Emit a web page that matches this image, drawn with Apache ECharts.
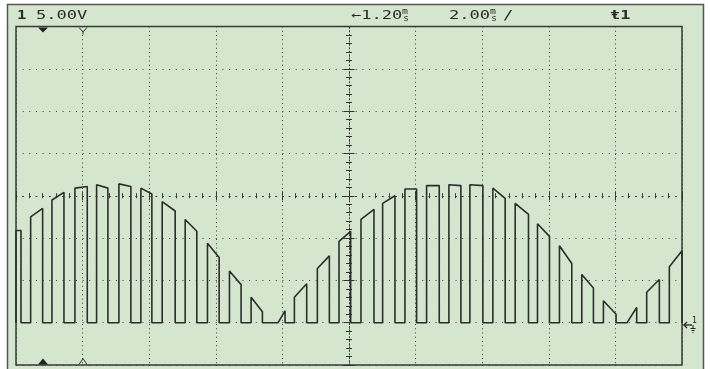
<!DOCTYPE html>
<html><head><meta charset="utf-8">
<script src="https://cdn.jsdelivr.net/npm/echarts@6/dist/echarts.min.js"></script>
<style>html,body{margin:0;padding:0;background:#fff}#c{width:710px;height:369px}</style>
</head><body><div id="c"></div>
<script>
// ---- data (time in ms, voltage in V) ----
const timeTicks = [0, 2, 4, 6, 8, 10, 12, 14, 16, 18, 20];
const voltTicks = [-5, 0, 5, 10, 15, 20, 25, 30, 35];
const riseTimes = [0.00, 0.44, 1.08, 1.77, 2.42, 3.09, 3.75, 4.39, 5.08, 5.75, 6.41, 7.06, 7.87, 8.36, 9.05, 9.70, 10.36, 11.01, 11.68, 12.33, 13.00, 13.63, 14.32, 14.99, 15.66, 16.32, 16.99, 17.64, 18.35, 18.94, 19.62];
const riseVolts = [10.9, 12.5, 14.5, 15.9, 16.3, 16.4, 15.9, 14.3, 12.2, 9.4, 6.1, 3.0, 0.0, 3.0, 6.4, 9.6, 12.2, 14.1, 15.8, 16.2, 16.3, 16.3, 15.9, 14.1, 11.7, 9.1, 5.7, 2.6, 0.0, 3.6, 6.6];
const fallTimes = [0.15, 0.80, 1.44, 2.14, 2.76, 3.45, 4.08, 4.78, 5.43, 6.10, 6.76, 7.40, 8.08, 8.73, 9.41, 10.05, 10.75, 11.38, 12.03, 12.71, 13.36, 14.02, 14.69, 15.39, 16.02, 16.69, 17.34, 18.02, 18.64, 19.32, 20.00];
const fallVolts = [10.9, 13.5, 15.4, 16.1, 15.9, 16.1, 15.2, 13.2, 10.8, 7.7, 4.5, 1.3, 1.4, 4.6, 7.9, 10.8, 13.4, 15.0, 15.8, 16.2, 16.2, 16.2, 14.7, 12.8, 10.2, 7.0, 4.1, 1.0, 1.8, 5.1, 8.5];
const lowLevel = 0;

// ---- build trace from pulse edges ----
const trace = [];
for (let i = 0; i < riseTimes.length; i++) {
  trace.push([riseTimes[i], lowLevel]);
  trace.push([riseTimes[i], riseVolts[i]]);
  trace.push([fallTimes[i], fallVolts[i]]);
  trace.push([fallTimes[i], lowLevel]);
}

const G = {left: 16, top: 26.5, width: 666, height: 338.5};
const INK = '#333';
const BG = '#d5e6cf';

function reticleX(inside, showLine) {
  return {
    type: 'value', min: timeTicks[0], max: timeTicks[timeTicks.length - 1], interval: 2,
    position: 'bottom', offset: -G.height / 2,
    axisLine: {show: showLine, onZero: false, lineStyle: {color: INK, width: 1, type: [1, 5.66]}},
    axisTick: {show: true, inside: inside, length: 4.5, lineStyle: {color: INK, width: 1}},
    minorTick: {show: true, splitNumber: 5, length: 2.5, lineStyle: {color: INK, width: 1}},
    axisLabel: {show: false}, splitLine: {show: false}
  };
}
function reticleY(inside, showLine) {
  return {
    type: 'value', min: voltTicks[0], max: voltTicks[voltTicks.length - 1], interval: 5,
    position: 'left', offset: -G.width / 2,
    axisLine: {show: showLine, onZero: false, lineStyle: {color: INK, width: 1, type: [1, 2.4]}},
    axisTick: {show: true, inside: inside, length: 5.5, lineStyle: {color: INK, width: 1}},
    minorTick: {show: true, splitNumber: 5, length: 3, lineStyle: {color: INK, width: 1}},
    axisLabel: {show: false}, splitLine: {show: false}
  };
}

const monoFont = 'DejaVu Sans Mono';
function hText(x, txt, opts) {
  opts = opts || {};
  return {
    type: 'text', x: x, y: opts.y || 15.5, scaleX: opts.sx || 1.42, z: 50,
    style: {text: txt, fontFamily: monoFont, fontSize: opts.fs || 12, fontWeight: opts.fw || 'normal',
      fill: '#2a2a2a', textVerticalAlign: 'middle', textAlign: 'left'}
  };
}
function msGlyph(x) {
  return [
    {type: 'text', x: x, y: 12, z: 50, scaleX: 1.15, style: {text: 'm', fontFamily: monoFont, fontSize: 8.5, fill: '#2a2a2a', textVerticalAlign: 'middle'}},
    {type: 'text', x: x + 1.2, y: 18.5, z: 50, scaleX: 1.1, style: {text: 's', fontFamily: monoFont, fontSize: 8.5, fill: '#2a2a2a', textVerticalAlign: 'middle'}}
  ];
}

const graphics = [
  {type: 'rect', z: -100, shape: {x: 7.5, y: 4.5, width: 696, height: 380}, style: {fill: BG, stroke: '#555', lineWidth: 1.5}},
  hText(17, '1', {fw: 'bold', fs: 13, sx: 1.2}),
  hText(36, '5.00V'),
  hText(351, '←1.20'),
  ...msGlyph(402),
  hText(449, '2.00'),
  ...msGlyph(490),
  hText(503, '/'),
  hText(610, 'ŧ1', {fw: 'bold', fs: 13, sx: 1.3}),
  // markers
  {type: 'polygon', z: 50, shape: {points: [[38, 27.5], [48, 27.5], [43, 32.5]]}, style: {fill: '#222'}},
  {type: 'polyline', z: 50, shape: {points: [[79, 27.5], [83, 32], [87, 27.5]]}, style: {stroke: '#333', lineWidth: 1, fill: null}},
  {type: 'polyline', z: 50, shape: {points: [[83, 32], [83, 34.5]]}, style: {stroke: '#333', lineWidth: 1}},
  {type: 'polygon', z: 50, shape: {points: [[38, 364.5], [48, 364.5], [43, 358.5]]}, style: {fill: '#222'}},
  {type: 'polyline', z: 50, shape: {points: [[79, 364.5], [83, 358.5], [87, 364.5]]}, style: {stroke: '#333', lineWidth: 1, fill: null}},
  // ground marker on the right
  {type: 'polyline', z: 50, shape: {points: [[683.5, 325], [692, 325]]}, style: {stroke: '#222', lineWidth: 1.3}},
  {type: 'polyline', z: 50, shape: {points: [[687, 322], [684, 325], [687, 328]]}, style: {stroke: '#222', lineWidth: 1.3, fill: null}},
  {type: 'text', z: 50, x: 692, y: 320.5, style: {text: '1', fontFamily: monoFont, fontSize: 8, fill: '#222', textVerticalAlign: 'middle'}},
  {type: 'polyline', z: 50, shape: {points: [[693, 325], [693, 328]]}, style: {stroke: '#222', lineWidth: 1}},
  {type: 'polyline', z: 50, shape: {points: [[690.5, 328.5], [695.5, 328.5]]}, style: {stroke: '#222', lineWidth: 1}},
  {type: 'polyline', z: 50, shape: {points: [[691.5, 330.5], [694.5, 330.5]]}, style: {stroke: '#222', lineWidth: 1}},
  {type: 'polyline', z: 50, shape: {points: [[692.5, 332.5], [693.5, 332.5]]}, style: {stroke: '#222', lineWidth: 1}}
];

const chart = echarts.init(document.getElementById('c'), null, {renderer: 'canvas'});
chart.setOption({
  animation: false,
  backgroundColor: '#ffffff',
  grid: [{left: G.left, top: G.top, width: G.width, height: G.height, show: true,
    backgroundColor: BG, borderColor: '#3a3a3a', borderWidth: 1.5}],
  xAxis: [
    {type: 'value', min: timeTicks[0], max: timeTicks[timeTicks.length - 1], interval: 2,
      axisLine: {show: false, onZero: false}, axisTick: {show: false}, axisLabel: {show: false},
      splitLine: {show: true, lineStyle: {color: '#3a3a3a', width: 1, type: [1, 3.25]}}},
    reticleX(true, true),
    reticleX(false, false)
  ],
  yAxis: [
    {type: 'value', min: voltTicks[0], max: voltTicks[voltTicks.length - 1], interval: 5,
      axisLine: {show: false, onZero: false}, axisTick: {show: false}, axisLabel: {show: false},
      splitLine: {show: true, lineStyle: {color: '#3a3a3a', width: 1, type: [1, 5.66]}}},
    reticleY(true, true),
    reticleY(false, false)
  ],
  graphic: graphics,
  series: [{
    type: 'line', xAxisIndex: 0, yAxisIndex: 0, data: trace, symbol: 'none', showSymbol: false,
    lineStyle: {color: '#2d2d2d', width: 1.6}, clip: true, silent: true, z: 10
  }]
});
</script></body></html>
